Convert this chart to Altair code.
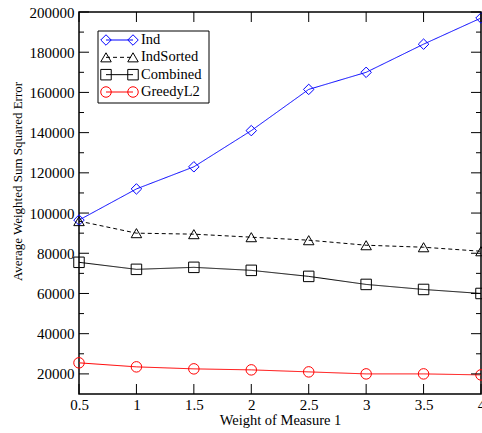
import altair as alt
import pandas as pd

# Series values at each weight of measure 1
weights = [0.5, 1.0, 1.5, 2.0, 2.5, 3.0, 3.5, 4.0]
ind = [96500, 112000, 123000, 141000, 161500, 170000, 184000, 197000]
ind_sorted = [96000, 90000, 89500, 88000, 86500, 84000, 83000, 81000]
combined = [75500, 72000, 73000, 71500, 68500, 64500, 62000, 60000]
greedy_l2 = [25500, 23500, 22500, 22000, 21000, 20000, 20000, 19500]

series_names = ["Ind", "IndSorted", "Combined", "GreedyL2"]
series_colors = ["#0000ff", "#000000", "#000000", "#ff0000"]
series_shapes = ["diamond", "triangle-up", "square", "circle"]
series_dashes = [[1, 0], [4, 3], [1, 0], [1, 0]]

x_ticks = [0.5, 1.0, 1.5, 2.0, 2.5, 3.0, 3.5, 4.0]
y_major = [20000, 40000, 60000, 80000, 100000, 120000, 140000, 160000, 180000, 200000]
y_minor = [30000, 50000, 70000, 90000, 110000, 130000, 150000, 170000, 190000]

W, H = 402, 382
FONT = "Liberation Serif"

rows = []
for name, vals in zip(series_names, [ind, ind_sorted, combined, greedy_l2]):
    for w, v in zip(weights, vals):
        rows.append({"weight": w, "error": v, "series": name})
df = pd.DataFrame(rows)

x_scale = alt.Scale(domain=[0.5, 4.0], nice=False, zero=False)
y_scale = alt.Scale(domain=[10000, 200000], nice=False, zero=False)
color = alt.Color("series:N", scale=alt.Scale(domain=series_names, range=series_colors), legend=None)
shape = alt.Shape("series:N", scale=alt.Scale(domain=series_names, range=series_shapes), legend=None)
dash = alt.StrokeDash("series:N", scale=alt.Scale(domain=series_names, range=series_dashes), legend=None)

x_enc = alt.X(
    "weight:Q", scale=x_scale,
    axis=alt.Axis(values=x_ticks, format="~g", ticks=False, domain=False, grid=False,
                  labelFont=FONT, labelFontSize=15, labelColor="black", labelPadding=3,
                  labelFlush=False, labelOverlap=False,
                  title="Weight of Measure 1", titleFont=FONT, titleFontSize=14.5,
                  titleFontWeight="normal", titleColor="black",
                  titleBaseline="middle", titleY=26),
)
y_enc = alt.Y(
    "error:Q", scale=y_scale,
    axis=alt.Axis(values=y_major, format="d", ticks=False, domain=False, grid=False,
                  labelFont=FONT, labelFontSize=15, labelColor="black", labelPadding=5,
                  labelFlush=False, labelOverlap=False,
                  title="Average Weighted Sum Squared Error", titleFont=FONT,
                  titleFontSize=13, titleFontWeight="normal", titleColor="black",
                  titleBaseline="middle", titleX=-62, titleY=169),
)

base = alt.Chart(df)
lines = base.mark_line(strokeWidth=1).encode(x=x_enc, y=y_enc, color=color, strokeDash=dash)
points = base.mark_point(filled=False, size=110, strokeWidth=1, opacity=1).encode(
    x="weight:Q", y="error:Q", color=color, shape=shape
)

# Inward tick marks mirrored on all four sides
ymaj = pd.DataFrame({"v": y_major})
ymin = pd.DataFrame({"v": y_minor})
xt = pd.DataFrame({"v": x_ticks})
tick_style = dict(color="black", strokeWidth=1)
ticks = [
    alt.Chart(ymaj).mark_rule(**tick_style).encode(y=alt.Y("v:Q"), x=alt.value(0), x2=alt.value(10)),
    alt.Chart(ymaj).mark_rule(**tick_style).encode(y=alt.Y("v:Q"), x=alt.value(W), x2=alt.value(W - 10)),
    alt.Chart(ymin).mark_rule(**tick_style).encode(y=alt.Y("v:Q"), x=alt.value(0), x2=alt.value(5)),
    alt.Chart(ymin).mark_rule(**tick_style).encode(y=alt.Y("v:Q"), x=alt.value(W), x2=alt.value(W - 5)),
    alt.Chart(xt).mark_rule(**tick_style).encode(x=alt.X("v:Q"), y=alt.value(0), y2=alt.value(10)),
    alt.Chart(xt).mark_rule(**tick_style).encode(x=alt.X("v:Q"), y=alt.value(H), y2=alt.value(H - 10)),
]

main = alt.layer(lines, points, *ticks)

# Boxed legend: line sample with a marker at each end, then the series name
leg_df = pd.DataFrame({"series": series_names, "row": list(range(len(series_names)))})
leg_y = alt.Y("row:Q", scale=alt.Scale(domain=[0, 3], range=[28, 80], nice=False, zero=False), axis=None)
leg_box = alt.Chart(alt.Data(values=[{}])).mark_rect(
    fill="white", stroke="black", strokeWidth=1
).encode(x=alt.value(19), x2=alt.value(130), y=alt.value(19), y2=alt.value(91))
leg_line = alt.Chart(leg_df).mark_rule(strokeWidth=1).encode(
    y=leg_y, x=alt.value(27), x2=alt.value(54), color=color, strokeDash=dash
)
leg_p1 = alt.Chart(leg_df).mark_point(filled=False, size=110, strokeWidth=1, opacity=1).encode(
    y=leg_y, x=alt.value(27), color=color, shape=shape
)
leg_p2 = alt.Chart(leg_df).mark_point(filled=False, size=110, strokeWidth=1, opacity=1).encode(
    y=leg_y, x=alt.value(54), color=color, shape=shape
)
leg_text = alt.Chart(leg_df).mark_text(
    align="left", baseline="middle", font=FONT, fontSize=14.5, color="black"
).encode(y=leg_y, x=alt.value(62), text="series:N")
legend = alt.layer(leg_box, leg_line, leg_p1, leg_p2, leg_text)

chart = (
    alt.layer(main, legend)
    .resolve_scale(y="independent")
    .properties(
        width=W, height=H,
        autosize=alt.AutoSizeParams(type="none"),
        padding={"left": 79, "top": 12, "right": 1, "bottom": 39},
        background="white",
    )
    .configure_view(stroke="black", strokeWidth=1.5)
)

chart.save("out.html", embed_options={"renderer": "svg", "actions": False})
